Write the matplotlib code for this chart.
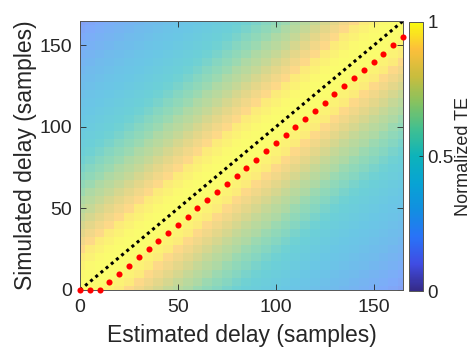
import numpy as np
import matplotlib
matplotlib.use("Agg")
import matplotlib.pyplot as plt
from matplotlib.colors import LinearSegmentedColormap, Normalize
from matplotlib.cm import ScalarMappable

plt.rcParams['font.family'] = ['Liberation Sans', 'DejaVu Sans']

# ---- data ----
delays = np.arange(0, 170, 5)  # grid of delays (samples), 0..165
# normalized TE as a function of |simulated - estimated| (steps of 5 samples)
te_profile = [1.00, 1.00, 0.99, 0.97, 0.95, 0.90, 0.86, 0.82, 0.78, 0.74,
              0.71, 0.68, 0.64, 0.61, 0.58, 0.54, 0.51, 0.48, 0.46, 0.44,
              0.42, 0.40, 0.38, 0.36, 0.34, 0.32, 0.30, 0.28, 0.26, 0.24,
              0.22, 0.20, 0.18, 0.16]
est_x = [0, 5, 10, 15, 20, 25, 30, 35, 40, 45, 50, 55, 60, 65, 70, 75, 80,
         85, 90, 95, 100, 105, 110, 115, 120, 125, 130, 135, 140, 145, 150,
         155, 160, 165]
sim_y = [0, 0, 0, 5, 10, 15, 20, 25, 30, 35, 40, 45, 50, 55, 60, 65, 70,
         75, 80, 85, 90, 95, 100, 105, 110, 115, 120, 125, 130, 135, 140,
         145, 150, 155]
diag = [0, 165]

n = len(delays)
idx = np.abs(np.arange(n)[:, None] - np.arange(n)[None, :])
TE = np.array(te_profile)[idx]  # rows: simulated, cols: estimated

# parula-like colormap
parula_pts = [
    (0.00, (0.208, 0.166, 0.529)),
    (0.10, (0.250, 0.300, 0.890)),
    (0.20, (0.160, 0.450, 0.970)),
    (0.30, (0.070, 0.560, 0.880)),
    (0.40, (0.030, 0.640, 0.830)),
    (0.50, (0.050, 0.700, 0.730)),
    (0.60, (0.250, 0.750, 0.570)),
    (0.70, (0.520, 0.760, 0.380)),
    (0.80, (0.790, 0.740, 0.240)),
    (0.90, (0.990, 0.750, 0.230)),
    (1.00, (0.976, 0.983, 0.054)),
]
parula = LinearSegmentedColormap.from_list('parula', parula_pts)
txt = '#262626'

fig = plt.figure(figsize=(4.75, 3.47), dpi=100)
ax = fig.add_axes([80/475, 1-290/347, 323/475, 269/347])
step = delays[1] - delays[0]
ax.imshow(TE, origin='lower', cmap=parula, vmin=0, vmax=1, alpha=0.6,
          extent=[delays[0]-step/2, delays[-1]+step/2, delays[0]-step/2, delays[-1]+step/2],
          aspect='auto', interpolation='nearest')
ax.plot(diag, diag, color='black', linestyle=(0, (1, 1.2)), linewidth=2.2)
ax.plot(est_x, sim_y, 'o', color='red', markersize=4.4, markeredgewidth=0,
        clip_on=False, zorder=5)
ax.set_xlim(0, 165)
ax.set_ylim(0, 165)
ax.set_xticks([0, 50, 100, 150])
ax.set_yticks([0, 50, 100, 150])
ax.tick_params(direction='in', length=4, width=0.6, colors=txt,
               labelsize=14, top=True, right=True)
ax.tick_params(axis='x', pad=6.6)
ax.tick_params(axis='y', pad=5.8)
for s in ax.spines.values():
    s.set_color('#555555')
    s.set_linewidth(0.7)
ax.set_xlabel('Estimated delay (samples)', fontsize=16.5, color=txt, labelpad=5.5)
ax.set_ylabel('Simulated delay (samples)', fontsize=16.5, color=txt, labelpad=1.5)

cax = fig.add_axes([409/475, 1-291/347, 14/475, 269/347])
sm = ScalarMappable(norm=Normalize(0, 1), cmap=parula)
cb = fig.colorbar(sm, cax=cax, ticks=[0, 0.5, 1])
cb.ax.set_yticklabels(['0', '0.5', '1'])
cb.ax.tick_params(direction='in', length=3, width=0.6, colors=txt, labelsize=13.5, pad=3)
cb.outline.set_edgecolor('#555555')
cb.outline.set_linewidth(0.7)
cb.set_label('Normalized TE', fontsize=13, color=txt, labelpad=1)

fig.savefig('out.png', dpi=100)
